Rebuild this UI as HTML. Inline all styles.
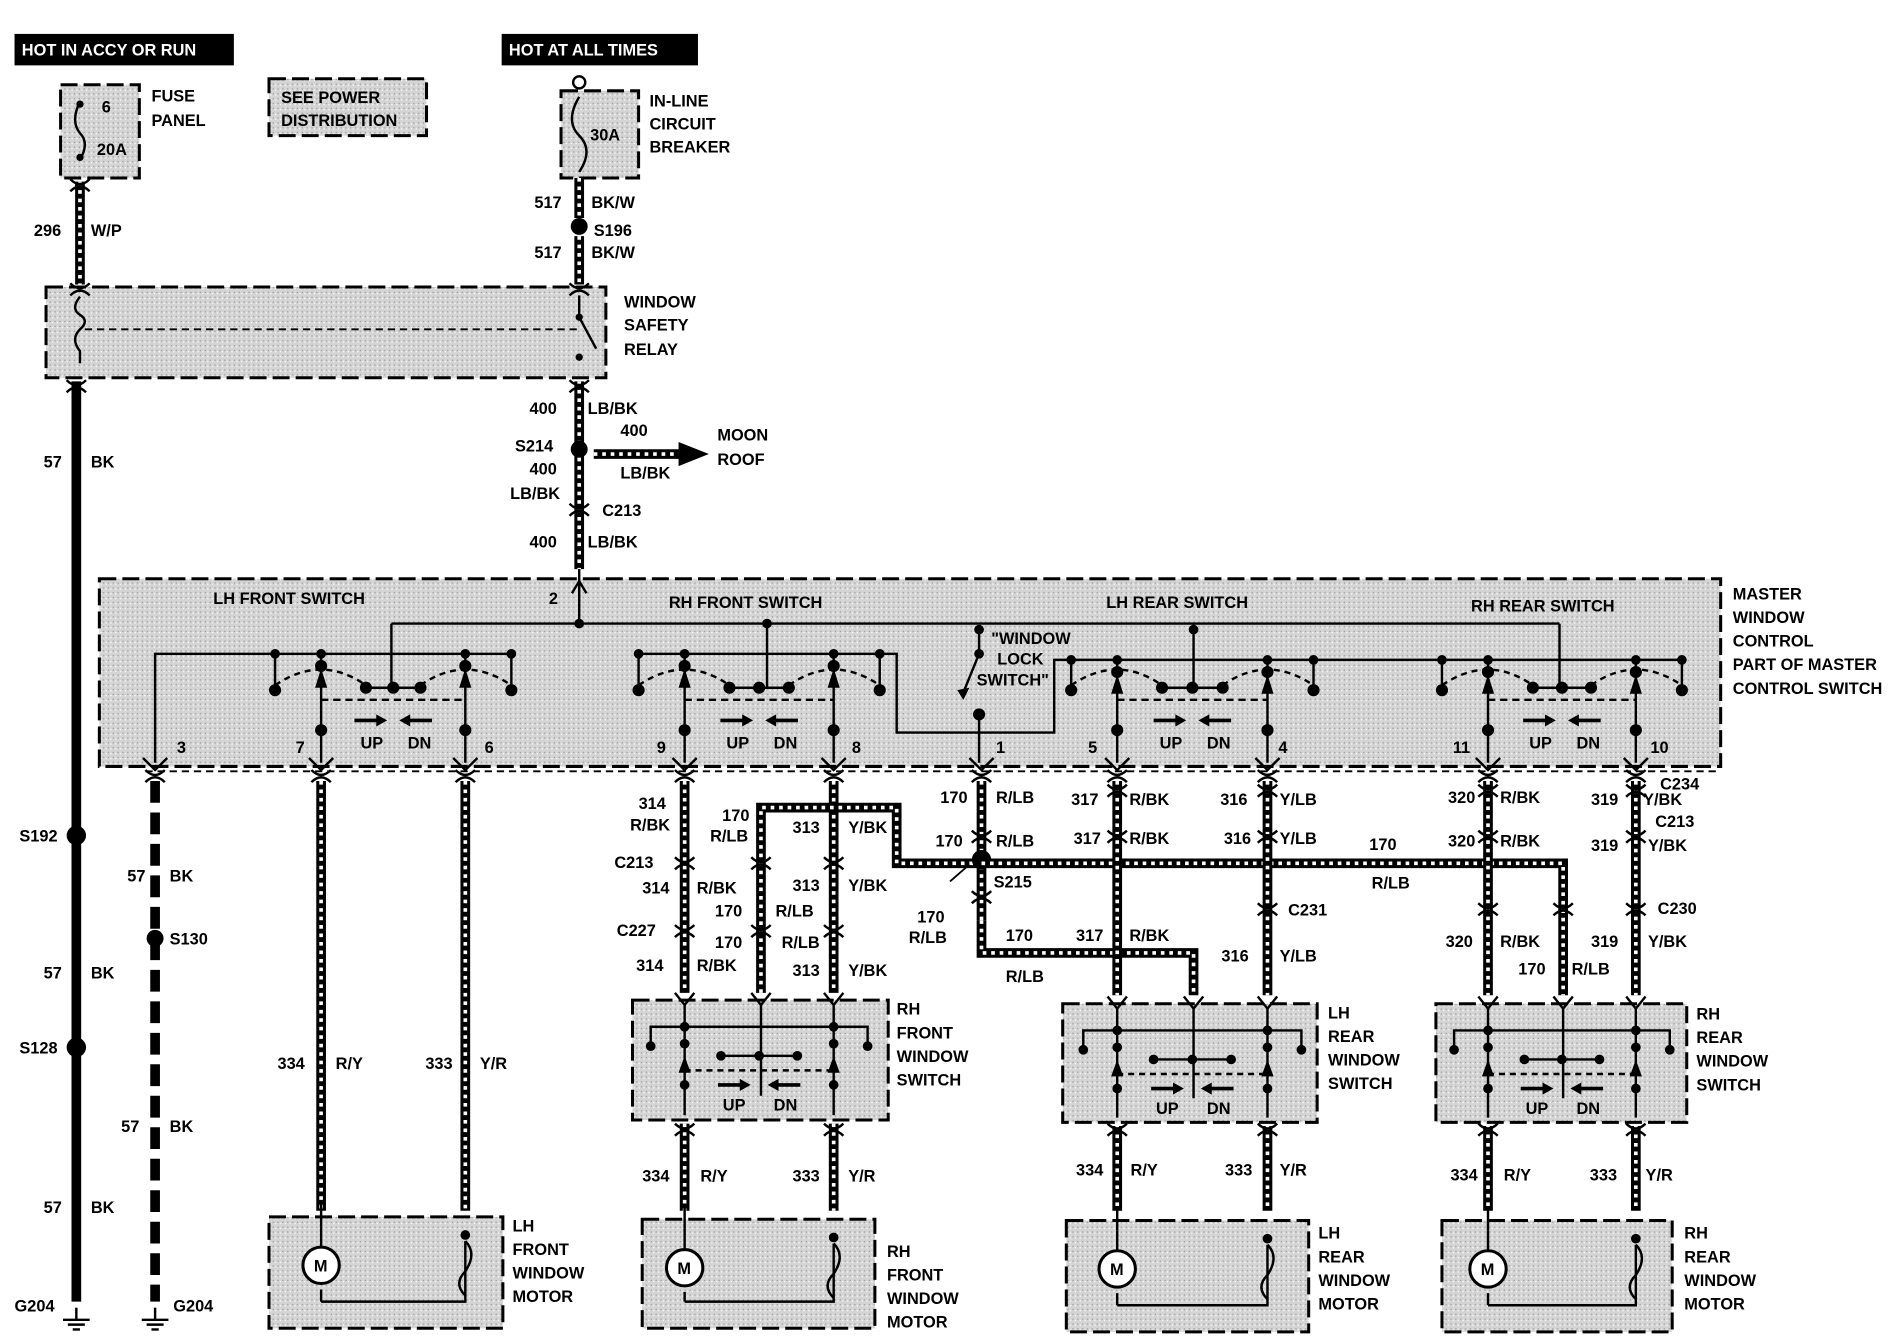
<!DOCTYPE html>
<html><head><meta charset="utf-8"><style>
html,body{margin:0;padding:0;background:#fff}
svg{display:block}
text{font-family:"Liberation Sans",Arial,sans-serif;font-weight:bold;font-size:13.5px;fill:#000}
</style></head><body>
<svg id="s" width="1900" height="1344" viewBox="0 0 1568 1110" preserveAspectRatio="none" xmlns="http://www.w3.org/2000/svg">
<defs>
<pattern id="g" width="4" height="4" patternUnits="userSpaceOnUse"><rect width="4" height="4" fill="#d4d4d4"/><rect x="1" y="1" width="1" height="1" fill="#999"/><rect x="3" y="2" width="1" height="1" fill="#fff"/></pattern>
</defs>
</svg>
<script>
const s=document.getElementById('s');const NS='http://www.w3.org/2000/svg';
function el(n,a,t){const e=document.createElementNS(NS,n);for(const k in a)e.setAttribute(k,a[k]);if(t!==undefined)e.textContent=t;s.appendChild(e);return e;}
function T(x,y,t,o){el('text',Object.assign({x:x,y:y},o||{}),t);}
function L(x1,y1,x2,y2,w,d){el('line',{x1,y1,x2,y2,stroke:'#000','stroke-width':w||2,'stroke-dasharray':d||'none'});}
function P(d,w,da){el('path',{d,fill:'none',stroke:'#000','stroke-width':w||2,'stroke-dasharray':da||'none'});}
function box(x,y,w,h){el('rect',{x,y,width:w,height:h,fill:'url(#g)',stroke:'#000','stroke-width':2.5,'stroke-dasharray':'14 5'});}
function D(x,y,r){el('circle',{cx:x,cy:y,r:r||4,fill:'#000'});}
function H(pts){const d='M'+pts.map(p=>p.join(',')).join(' L');P(d,8);el('path',{d,fill:'none',stroke:'#fff','stroke-width':3,'stroke-dasharray':'3 4'});}
function C(x,y){P(`M${x-8},${y-4} Q${x},${y+4} ${x+8},${y-4}`,2);P(`M${x-8},${y+6} Q${x},${y-2} ${x+8},${y+6}`,2);}
function gnd(x,y){L(x,y,x,y+10,2);L(x-11,y+10,x+11,y+10,2);L(x-7,y+14,x+7,y+14,2);L(x-3,y+18,x+3,y+18,2);}
el('rect',{x:12,y:28,width:181,height:26,fill:'#000'});T(18,46,'HOT IN ACCY OR RUN',{style:'fill:#fff'});
el('rect',{x:414,y:28,width:162,height:26,fill:'#000'});T(420,46,'HOT AT ALL TIMES',{style:'fill:#fff'});
box(50,70,65,77);T(84,93,'6');T(80,128,'20A');P('M66,84 Q58,100 66,110 Q74,118 66,132',2);D(66,86,3);D(66,130,3);
T(125,84,'FUSE');T(125,104,'PANEL');
box(222,65,130,47);T(232,85,'SEE POWER');T(232,104,'DISTRIBUTION');
el('circle',{cx:478,cy:68,r:5,fill:'#fff',stroke:'#000','stroke-width':2});
box(463,75,64,72);T(487,116,'30A');P('M478,80 Q466,100 478,112 Q490,124 478,142',2);
T(536,88,'IN-LINE');T(536,107,'CIRCUIT');T(536,126,'BREAKER');
H([[66,150],[66,235]]);T(28,195,'296');T(75,195,'W/P');C(66,152);
H([[478,147],[478,180]]);T(441,172,'517');T(488,172,'BK/W');D(478,187,7);T(490,195,'S196');
H([[478,195],[478,235]]);T(441,213,'517');T(488,213,'BK/W');
box(38,237,462,75);L(70,272,478,272,1.5,'6 4');P('M66,245 Q58,255 66,260 Q74,265 66,272 Q58,280 66,290 L66,300',2);
L(478,244,478,262,2);D(478,262,3);L(478,262,492,288,2);D(478,295,3);C(66,238);C(478,238);
T(515,254,'WINDOW');T(515,273,'SAFETY');T(515,293,'RELAY');
L(63,315,63,1075,8);D(63,690,8);D(63,865,8);gnd(63,1080);C(63,318);
T(36,386,'57');T(75,386,'BK');T(16,695,'S192');T(36,808,'57');T(75,808,'BK');T(16,870,'S128');T(36,1002,'57');T(75,1002,'BK');T(12,1083,'G204');
H([[478,315],[478,470]]);C(478,318);D(478,371,7);C(478,420);
T(437,342,'400');T(485,342,'LB/BK');T(425,373,'S214');T(437,392,'400');T(421,412,'LB/BK');T(497,426,'C213');T(437,452,'400');T(485,452,'LB/BK');
H([[490,375],[562,375]]);el('polygon',{points:'560,365 585,375 560,385',fill:'#000'});
T(512,360,'400');T(512,395,'LB/BK');T(592,364,'MOON');T(592,384,'ROOF');
box(82,478,1338,155);
T(176,499,'LH FRONT SWITCH');T(552,502,'RH FRONT SWITCH');T(913,502,'LH REAR SWITCH');T(1214,505,'RH REAR SWITCH');
['MASTER','WINDOW','CONTROL','PART OF MASTER','CONTROL SWITCH'].forEach((t,i)=>T(1430,495+i*19.5,t));
L(478,470,478,515,2);P('M472,490 L478,480 L484,490',2);T(453,499,'2');
L(323,515,1287,515,2);D(478,515);D(633,515);D(808,520);D(985,520);
P('M128,630 L128,540 L423,540',2);P('M530,540 L740,540 L740,605 L870,605 L870,545 L1385,545',2);
function sw(xa,xb,tx,by){
 by=by||540;const m=(xa+xb)/2;
 D(xa-38,by);D(xa,by);D(xb,by);D(xb+38,by);
 L(xa-38,by,xa-38,570);D(xa-38,570,5);L(xb+38,by,xb+38,570);D(xb+38,570,5);
 L(xa+37,568,xb-37,568);D(xa+37,568,5);D(m,568,5);D(xb-37,568,5);L(tx,515,tx,568);
 P(`M${xa-38},566 Q${xa},540 ${xa+37},566`,2,'5 4');P(`M${xb-37},566 Q${xb},540 ${xb+38},566`,2,'5 4');
 [xa,xb].forEach(x=>{L(x,by,x,630);el('polygon',{points:`${x-5},${by+28} ${x},${by+12} ${x+5},${by+28}`,fill:'#000'});D(x,by+10,5);D(x,603,5);});
 L(xa,578,xb,578,2,'6 4');
 L(m-32,595,m-12,595,3);el('polygon',{points:`${m-14},590 ${m-5},595 ${m-14},600`,fill:'#000'});
 L(m+12,595,m+32,595,3);el('polygon',{points:`${m+14},590 ${m+5},595 ${m+14},600`,fill:'#000'});
 T(m-27,618,'UP');T(m+12,618,'DN');
}
sw(265,384,323);sw(565,688,633);sw(922,1046,985,545);sw(1228,1350,1287,545);
L(808,520,808,540);D(808,540,4);L(808,540,795,572,2);el('polygon',{points:'790,570 795,578 800,568',fill:'#000'});D(808,590,5);L(808,590,808,630);
T(818,532,'"WINDOW');T(823,549,'LOCK');T(806,566,'SWITCH"');
[[146,'3'],[244,'7'],[400,'6'],[542,'9'],[703,'8'],[822,'1'],[898,'5'],[1055,'4'],[1199,'11'],[1362,'10']].forEach(p=>T(p[0],622,p[1]));
[128,265,384,565,688,810,922,1046,1228,1350].forEach(x=>{P(`M${x-10},626 L${x},636 L${x+10},626`,2);C(x,640);});
L(120,637,1420,637,1.5,'6 4');
L(128,645,128,1075,8,'18 8');D(128,775,7);gnd(128,1080);T(105,728,'57');T(140,728,'BK');T(140,780,'S130');T(100,935,'57');T(140,935,'BK');T(143,1083,'G204');
H([[265,645],[265,1000]]);H([[384,645],[384,1000]]);T(229,883,'334');T(277,883,'R/Y');T(351,883,'333');T(396,883,'Y/R');
function motor(x,y,w,h,ax,bx){box(x,y,w,h);P(`M${ax},${y-12} L${ax},${y+8}`,2);L(ax,y+60,ax,y+h-22);P(`M${ax},${y+h-22} L${bx},${y+h-22} L${bx},${y+20}`,2);
 el('circle',{cx:ax,cy:y+40,r:15,fill:'#fff',stroke:'#000','stroke-width':2.5});T(ax-6,y+45,'M');L(ax,y+8,ax,y+25);D(bx,y+15,4);P(`M${bx},${y+20} Q${bx+10},${y+30} ${bx},${y+45} Q${bx-10},${y+55} ${bx},${y+65}`,2);}
motor(222,1005,193,92,265,384);['LH','FRONT','WINDOW','MOTOR'].forEach((t,i)=>T(423,1017+i*19.5,t));
H([[565,645],[565,820]]);H([[688,645],[688,820]]);H([[628,820],[628,667],[740,667],[740,713],[810,713]]);
[712,768].forEach(y=>{C(565,y);C(628,y);C(688,y);});
T(527,668,'314');T(520,686,'R/BK');T(596,678,'170');T(586,695,'R/LB');T(654,688,'313');T(700,688,'Y/BK');T(507,717,'C213');
T(530,738,'314');T(575,738,'R/BK');T(654,736,'313');T(700,736,'Y/BK');T(590,757,'170');T(640,757,'R/LB');T(509,773,'C227');
T(590,783,'170');T(645,783,'R/LB');T(525,802,'314');T(575,802,'R/BK');T(654,806,'313');T(700,806,'Y/BK');
function rsw(x,y,w,h,a,b,c1){box(x,y,w,h);[a,c1,b].forEach(xx=>P(`M${xx-8},${y-6} L${xx},${y+4} L${xx+8},${y-6}`,2));
 L(a,y+4,a,y+h-4);L(b,y+4,b,y+h-4);L(c1,y+4,c1,y+h-20);
 P(`M${a-28},${y+38} L${a-28},${y+22} L${b+28},${y+22} L${b+28},${y+38}`,2);D(a-28,y+38,4);D(b+28,y+38,4);
 L(a+30,y+46,b-30,y+46);[a+30,(a+b)/2,b-30].forEach(xx=>D(xx,y+46,4));
 [a,b].forEach(xx=>{D(xx,y+22,4);D(xx,y+36,4);D(xx,y+70,4);el('polygon',{points:`${xx-5},${y+60} ${xx},${y+46} ${xx+5},${y+60}`,fill:'#000'});});
 L(a,y+58,b,y+58,2,'5 4');const m=(a+b)/2;L(m-34,y+70,m-14,y+70,3);el('polygon',{points:`${m-16},${y+65} ${m-7},${y+70} ${m-16},${y+75}`,fill:'#000'});
 L(m+14,y+70,m+34,y+70,3);el('polygon',{points:`${m+16},${y+65} ${m+7},${y+70} ${m+16},${y+75}`,fill:'#000'});T(m-30,y+91,'UP');T(m+12,y+91,'DN');}
rsw(522,826,211,99,565,688,628);['RH','FRONT','WINDOW','SWITCH'].forEach((t,i)=>T(740,838+i*19.5,t));
H([[565,928],[565,1000]]);H([[688,928],[688,1000]]);C(565,932);C(688,932);T(530,976,'334');T(578,976,'R/Y');T(654,976,'333');T(700,976,'Y/R');
motor(530,1007,192,90,565,688);['RH','FRONT','WINDOW','MOTOR'].forEach((t,i)=>T(732,1038+i*19.5,t));
H([[810,645],[810,760]]);D(810,710,8);C(810,690);C(810,740);P('M784,728 L800,714',1.5);
T(776,663,'170');T(822,663,'R/LB');T(772,699,'170');T(822,699,'R/LB');T(820,733,'S215');T(757,762,'170');T(750,779,'R/LB');
H([[810,760],[810,787],[985,787],[985,822]]);T(830,777,'170');T(830,811,'R/LB');
H([[810,713],[1290,713],[1290,822]]);T(1130,702,'170');T(1132,734,'R/LB');
H([[922,645],[922,822]]);H([[1046,645],[1046,822]]);C(922,652);C(1046,652);C(922,690);C(1046,690);C(1046,750);
T(884,665,'317');T(932,665,'R/BK');T(1007,665,'316');T(1056,665,'Y/LB');T(886,697,'317');T(932,697,'R/BK');T(1010,697,'316');T(1056,697,'Y/LB');
T(1063,756,'C231');T(888,777,'317');T(932,777,'R/BK');T(1008,794,'316');T(1056,794,'Y/LB');
rsw(877,829,210,98,922,1046,985);['LH','REAR','WINDOW','SWITCH'].forEach((t,i)=>T(1096,841+i*19.5,t));
H([[922,930],[922,1000]]);H([[1046,930],[1046,1000]]);C(922,932);C(1046,932);T(888,971,'334');T(933,971,'R/Y');T(1011,971,'333');T(1056,971,'Y/R');
motor(880,1008,200,92,922,1046);['LH','REAR','WINDOW','MOTOR'].forEach((t,i)=>T(1088,1023+i*19.5,t));
H([[1228,645],[1228,822]]);H([[1350,645],[1350,822]]);C(1228,652);C(1350,652);C(1228,690);C(1350,690);C(1228,750);C(1290,750);C(1350,750);
T(1195,663,'320');T(1238,663,'R/BK');T(1313,665,'319');T(1356,665,'Y/BK');T(1370,652,'C234');T(1366,683,'C213');
T(1195,699,'320');T(1238,699,'R/BK');T(1313,703,'319');T(1360,703,'Y/BK');T(1368,755,'C230');
T(1193,782,'320');T(1238,782,'R/BK');T(1313,782,'319');T(1360,782,'Y/BK');T(1253,805,'170');T(1297,805,'R/LB');
rsw(1185,829,207,98,1228,1350,1290);['RH','REAR','WINDOW','SWITCH'].forEach((t,i)=>T(1400,842+i*19.5,t));
H([[1228,930],[1228,1000]]);H([[1350,930],[1350,1000]]);C(1228,932);C(1350,932);T(1197,975,'334');T(1241,975,'R/Y');T(1312,975,'333');T(1358,975,'Y/R');
motor(1190,1008,190,92,1228,1350);['RH','REAR','WINDOW','MOTOR'].forEach((t,i)=>T(1390,1023+i*19.5,t));
</script>
</body></html>
